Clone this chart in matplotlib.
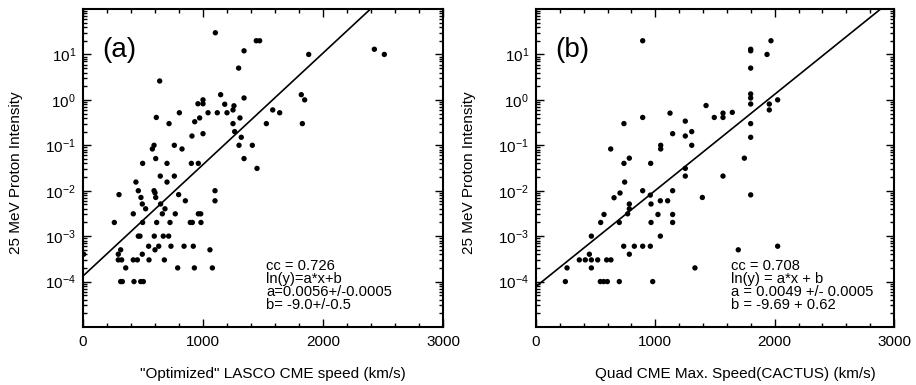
import numpy as np
import matplotlib
matplotlib.use("Agg")
import matplotlib.pyplot as plt
from matplotlib.ticker import LogLocator, FixedLocator, MultipleLocator, NullFormatter

plt.rcParams['font.family'] = ['Liberation Sans', 'DejaVu Sans']
plt.rcParams['mathtext.fontset'] = 'custom'
plt.rcParams['mathtext.rm'] = 'Liberation Sans'
plt.rcParams['mathtext.it'] = 'Liberation Sans:italic'
plt.rcParams['mathtext.bf'] = 'Liberation Sans:bold'

# ---------------- panel (a) data ----------------
speed_a = [1103, 1444, 1472, 2428, 2511, 1881, 1342, 1297, 639, 1147, 1342, 1819, 1847,
           1000, 958, 1000, 1181, 1250, 1258, 803, 1042, 1119, 1200, 972, 931, 1308, 611,
           1581, 1639, 717, 1250, 1528, 1828, 1264, 1000, 908, 1319, 592, 761, 1300, 1411,
           578, 825, 606, 1342, 497, 700, 903, 961, 1450, 644, 761, 700, 441,
           300, 461, 592, 600, 1100, 1100, 483, 606, 797, 853, 494, 647, 522, 683, 419,
           661, 769, 961, 981, 261, 497, 614, 725, 894, 911, 983, 461, 475, 594, 669, 714,
           547, 631, 733, 842, 919, 600, 314, 1058, 5, 294, 494, 294, 322, 419, 453, 550,
           678, 356, 789, 928, 1078, 314, 328, 425, 481, 503]
intensity_a = [30, 20, 20, 13, 10, 10, 12, 5, 2.6, 1.3, 1.1, 1.3, 1.0,
               1.0, 0.82, 0.82, 0.8, 0.6, 0.74, 0.52, 0.52, 0.52, 0.52, 0.4, 0.33, 0.4, 0.41,
               0.6, 0.52, 0.3, 0.3, 0.3, 0.3, 0.2, 0.18, 0.16, 0.15, 0.1, 0.1, 0.1, 0.1,
               0.083, 0.083, 0.051, 0.051, 0.04, 0.04, 0.04, 0.04, 0.031, 0.021, 0.021, 0.0155, 0.0155,
               0.0082, 0.01, 0.01, 0.009, 0.01, 0.006, 0.0071, 0.0071, 0.0082, 0.006, 0.0051, 0.0051,
               0.004, 0.004, 0.0031, 0.0031, 0.0031, 0.0031, 0.0031, 0.002, 0.002, 0.002, 0.002,
               0.002, 0.002, 0.002, 0.001, 0.001, 0.001, 0.001, 0.001,
               0.0006, 0.0006, 0.0006, 0.0006, 0.0006, 0.0005, 0.0005, 0.0005, 0.0004, 0.0004,
               0.0004, 0.0003, 0.0003, 0.0003, 0.0003, 0.0003, 0.0003, 0.0002, 0.0002, 0.0002,
               0.0002, 0.0001, 0.0001, 0.0001, 0.0001, 0.0001]

# ---------------- panel (b) data ----------------
speed_b = [894, 1969, 1799, 1799, 1936, 1799, 1799, 1799, 1799, 2025, 1955, 1955, 1425,
           1123, 1567, 1567, 1645, 1494, 894, 737, 1251, 1799, 1305, 1145, 1251, 1799,
           1045, 1045, 1305, 626, 782, 737, 961, 1746, 1251, 1251, 1567, 743,
           704, 654, 894, 958, 1145, 782, 782, 768, 964, 1042, 1103, 1022, 1145, 1145,
           964, 1042, 542, 570, 698, 464, 735, 824, 894, 958, 782, 447, 363, 413, 464,
           517, 592, 628, 260, 464, 246, 539, 567, 598, 698, 978, 1394, 1799, 1695, 2025, 1332]
intensity_b = [20, 20, 13, 12, 10, 5, 1.35, 1.1, 0.81, 1.0, 0.81, 0.6, 0.75,
               0.51, 0.51, 0.41, 0.53, 0.41, 0.41, 0.3, 0.34, 0.3, 0.2, 0.18, 0.16, 0.15,
               0.1, 0.083, 0.1, 0.083, 0.052, 0.04, 0.04, 0.052, 0.031, 0.021, 0.021, 0.0155,
               0.0089, 0.007, 0.01, 0.008, 0.01, 0.0051, 0.004, 0.0031, 0.0051, 0.006, 0.006,
               0.003, 0.003, 0.002, 0.002, 0.001, 0.002, 0.003, 0.002, 0.001, 0.0006, 0.0006,
               0.0006, 0.0006, 0.0004, 0.0004, 0.0003, 0.0003, 0.0003, 0.0003, 0.0003, 0.0003,
               0.0002, 0.0002, 0.0001, 0.0001, 0.0001, 0.0001, 0.0001, 0.0001, 0.0071, 0.0081,
               0.0005, 0.0006, 0.0002]

# fitted lines as drawn (ln(y) = slope*x + intercept)
line_slope = [0.00565, 0.00487]
line_intercept = [-8.93, -9.46]

panel_letters = ["(a)", "(b)"]
xlabels = ['"Optimized" LASCO CME speed (km/s)', 'Quad CME Max. Speed(CACTUS) (km/s)']
ylabel = "25 MeV Proton Intensity"
annotations = [
    ["cc = 0.726", "ln(y)=a*x+b", "a=0.0056+/-0.0005", "b= -9.0+/-0.5"],
    ["cc = 0.708", "ln(y) = a*x + b", "a = 0.0049 +/- 0.0005", "b = -9.69 + 0.62"],
]
xticks = [0, 1000, 2000, 3000]
yticks = [1e-4, 1e-3, 1e-2, 1e-1, 1e0, 1e1]
ytick_labels = [r"$\mathregular{10^{-4}}$", r"$\mathregular{10^{-3}}$", r"$\mathregular{10^{-2}}$",
                r"$\mathregular{10^{-1}}$", r"$\mathregular{10^{0}}$", r"$\mathregular{10^{1}}$"]

W, H = 916, 385
fig = plt.figure(figsize=(W / 100, H / 100), dpi=100)
axes_px = [(83, 443), (536, 894)]
top_px, bot_px = 9, 327

datasets = [(speed_a, intensity_a), (speed_b, intensity_b)]
xlab_centers = [0.528, 0.556]
ann_x = [0.508, 0.545]
ann_base_px = [270, 283, 296, 309]

for i, (l, r) in enumerate(axes_px):
    ax = fig.add_axes([l / W, 1 - bot_px / H, (r - l) / W, (bot_px - top_px) / H])
    xs, ys = datasets[i]
    ax.scatter(xs, ys, s=15, color='black', edgecolors='none', zorder=3)
    xx = np.linspace(0, 3000, 400)
    ax.plot(xx, np.exp(line_slope[i] * xx + line_intercept[i]), color='black', lw=1.2)
    ax.set_yscale('log')
    ax.set_xlim(0, 3000)
    ax.set_ylim(1e-5, 1e2)
    ax.xaxis.set_major_locator(FixedLocator(xticks))
    ax.xaxis.set_minor_locator(MultipleLocator(200))
    ax.yaxis.set_major_locator(FixedLocator(yticks))
    ax.set_yticklabels(ytick_labels)
    ax.yaxis.set_minor_locator(LogLocator(base=10, subs=np.arange(2, 10), numticks=20))
    ax.yaxis.set_minor_formatter(NullFormatter())
    ax.tick_params(which='both', direction='in', top=True, right=True, labelsize=11, width=1.0)
    ax.tick_params(which='major', length=6)
    ax.tick_params(which='minor', length=3)
    ax.tick_params(axis='y', which='major', pad=5)
    ax.tick_params(axis='x', which='major', pad=6)
    for sp in ax.spines.values():
        sp.set_linewidth(1.5)
    ax.set_xlabel(xlabels[i], fontsize=11)
    ax.xaxis.set_label_coords(xlab_centers[i], -0.125)
    ax.set_ylabel(ylabel, fontsize=11)
    ax.yaxis.set_label_coords(-0.168, 0.486)
    ax.text(0.053, 0.871, panel_letters[i], transform=ax.transAxes, fontsize=20,
            ha='left', va='center')
    for j, line in enumerate(annotations[i]):
        yb = (bot_px - ann_base_px[j]) / (bot_px - top_px)
        ax.text(ann_x[i], yb, line, transform=ax.transAxes, fontsize=10.6,
                ha='left', va='baseline')

fig.savefig("out.png", dpi=100)
